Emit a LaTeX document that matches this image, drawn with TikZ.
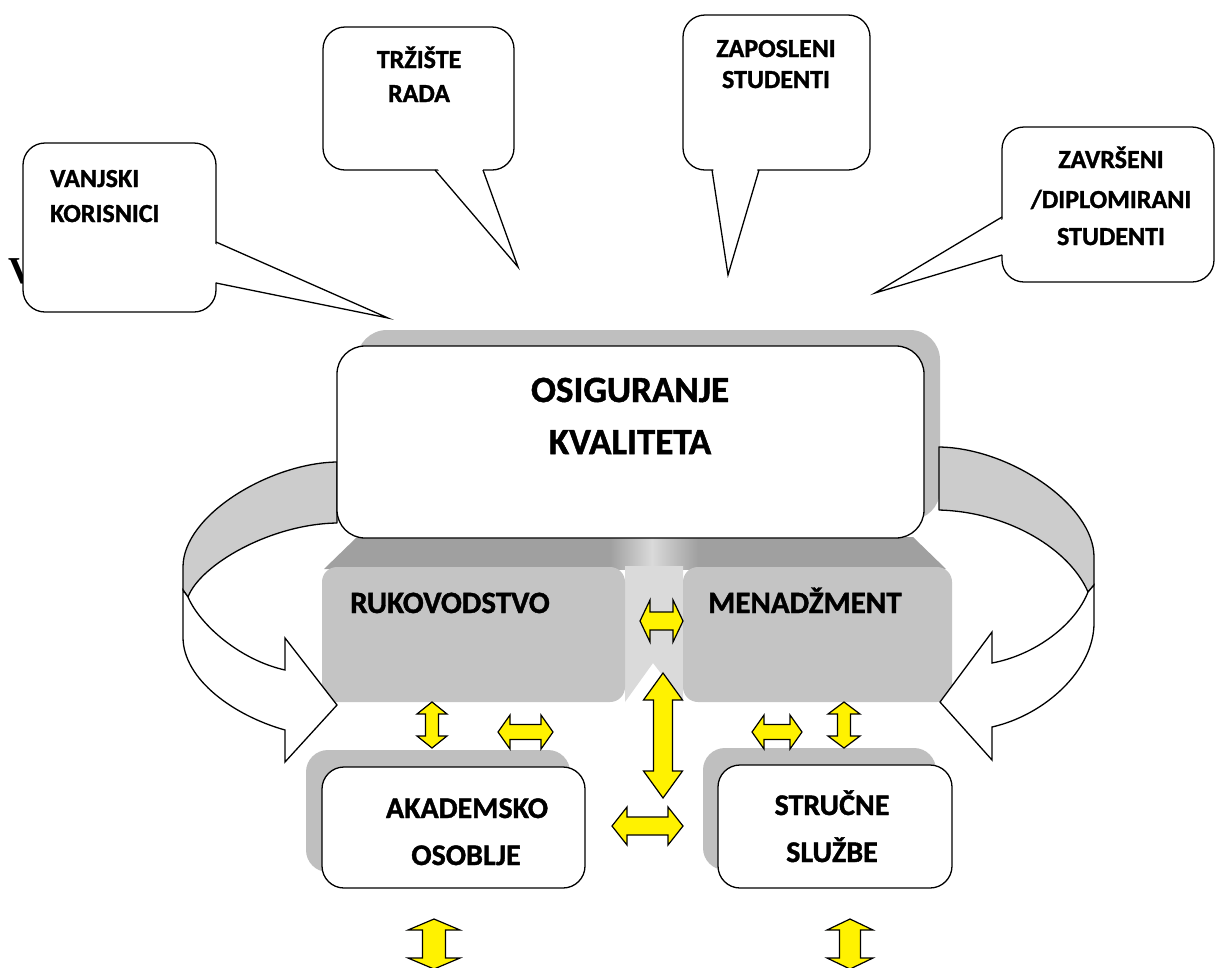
\documentclass[tikz,border=0pt]{standalone}
\usepackage{fontspec}
\setmainfont{Carlito}[BoldFont={Carlito Bold}, BoldFeatures={FakeBold=1.3}]
\newfontfamily\serifV{Liberation Serif}
\definecolor{shadowgray}{RGB}{191,191,191}
\definecolor{boxgray}{RGB}{196,196,196}
\definecolor{darkstrip}{RGB}{160,160,160}
\definecolor{centerlight}{RGB}{218,218,218}
\definecolor{bandgray}{RGB}{204,204,204}
\tikzset{
  outl/.style={draw=black, line width=1.3pt},
  calloutbox/.style={outl, fill=white, rounded corners=22pt},
  ctext/.style={font=\bfseries\fontsize{26}{30}\selectfont, inner sep=0pt, anchor=base},
  mtext/.style={font=\bfseries\fontsize{37}{40}\selectfont, inner sep=0pt, anchor=base},
  btext/.style={font=\bfseries\fontsize{30}{34}\selectfont, inner sep=0pt, anchor=base},
  bbtext/.style={font=\bfseries\fontsize{31}{34}\selectfont, inner sep=0pt, anchor=base},
  mainbox/.style={outl, fill=white, rounded corners=28pt, inner sep=0pt},
  lbox/.style={fill=boxgray, rounded corners=15pt, inner sep=0pt},
  wbox/.style={outl, fill=white, rounded corners=22pt, inner sep=0pt},
  band/.style={outl, fill=bandgray, line join=round},
  front/.style={outl, fill=white, line join=miter},
  yarrow/.style={fill=yellow, draw=black, line width=1.2pt, line join=miter},
}
% vertical double arrow: cx, ytop, ybot, shaft half, head half, head length
\newcommand{\yarrV}[6]{%
  \path[yarrow] (#1,#2) -- ({#1+#5},{#2+#6}) -- ({#1+#4},{#2+#6}) -- ({#1+#4},{#3-#6}) -- ({#1+#5},{#3-#6}) -- (#1,#3) -- ({#1-#5},{#3-#6}) -- ({#1-#4},{#3-#6}) -- ({#1-#4},{#2+#6}) -- ({#1-#5},{#2+#6}) -- cycle;}
% horizontal double arrow: cy, xleft, xright, shaft half, head half, head length
\newcommand{\yarrH}[6]{%
  \path[yarrow] (#2,#1) -- ({#2+#6},{#1-#5}) -- ({#2+#6},{#1-#4}) -- ({#3-#6},{#1-#4}) -- ({#3-#6},{#1-#5}) -- (#3,#1) -- ({#3-#6},{#1+#5}) -- ({#3-#6},{#1+#4}) -- ({#2+#6},{#1+#4}) -- ({#2+#6},{#1+#5}) -- cycle;}
\begin{document}
\begin{tikzpicture}[x=1pt,y=-1pt]
\useasboundingbox[fill=white] (0,0) rectangle (1215,967);

% partially hidden serif V
\node[inner sep=0pt, anchor=base west, font=\serifV\bfseries\fontsize{38}{40}\selectfont] (vletter) at (8,283) {V};

% ---------- callouts ----------
% 1 VANJSKI KORISNICI
\path[calloutbox] (23,143) rectangle (216,312);
\fill[white] (213,243) -- (388,318) -- (213,282) -- cycle;
\draw[outl, line join=miter] (216,242) -- (388,318) -- (216,283);
\node[ctext, anchor=base west] (vk1) at (50,187) {VANJSKI};
\node[ctext, anchor=base west] (vk2) at (50,222) {KORISNICI};

% 2 TRZISTE RADA
\path[calloutbox] (323,27) rectangle (514,170);
\fill[white] (436,167) -- (518,267) -- (482,167) -- cycle;
\draw[outl, line join=miter] (435,170) -- (518,267) -- (483,170);
\node[ctext] (tr1) at (419,68) {TRŽIŠTE};
\node[ctext] (tr2) at (419,102) {RADA};

% 3 ZAPOSLENI STUDENTI
\path[calloutbox] (683,15) rectangle (870,170);
\fill[white] (713,167) -- (728,275) -- (758,167) -- cycle;
\draw[outl, line join=miter] (712,170) -- (728,275) -- (759,170);
\node[ctext] (zs1) at (776,57) {ZAPOSLENI};
\node[ctext] (zs2) at (776,88) {STUDENTI};

% 4 ZAVRSENI / DIPLOMIRANI STUDENTI
\path[calloutbox] (1002,127) rectangle (1214,282);
\fill[white] (1005,218) -- (875,293) -- (1005,254) -- cycle;
\draw[outl, line join=miter] (1002,217) -- (875,293) -- (1002,255);
\node[ctext] (zd1) at (1111,168) {ZAVRŠENI};
\node[ctext] (zd2) at (1111,208) {/DIPLOMIRANI};
\node[ctext] (zd3) at (1111,245) {STUDENTI};

% ---------- central block ----------
\fill[shadowgray, rounded corners=30pt] (357,330) rectangle (940,520);
\fill[darkstrip] (357,537) -- (913,537) -- (946,569) -- (324,569) -- cycle;
\shade[left color=darkstrip, right color=centerlight] (610,537) rectangle (652,569);
\shade[left color=centerlight, right color=darkstrip] (652,537) rectangle (698,569);
\fill[centerlight] (625,566) -- (683,566) -- (683,702) -- (653,663) -- (625,702) -- cycle;

\node[lbox, minimum width=303pt, minimum height=135pt] (ruk) at (473.5,634.5) {};
\node[lbox, minimum width=269pt, minimum height=135pt] (men) at (817.5,634.5) {};

% lower boxes
\fill[shadowgray, rounded corners=22pt] (306,750) rectangle (570,872);
\fill[shadowgray, rounded corners=22pt] (703,748) rectangle (936,870);
\node[wbox, minimum width=263pt, minimum height=121pt] (ako) at (453.5,827.5) {};
\node[wbox, minimum width=234pt, minimum height=123pt] (ss) at (835,826.5) {};

% ---------- curved arrows ----------
% left
\path[band] (337,462) .. controls (270,463) and (183,515) .. (183,567) -- (183,590) -- (188,597)
   .. controls (200,565) and (270,524) .. (337,523) -- cycle;
\path[front] (188,597) .. controls (200,625) and (240,660) .. (285,670) -- (285,638) -- (337,705)
   -- (285,762) -- (285,730) .. controls (235,716) and (183,680) .. (183,637) -- (183,590) -- cycle;
% right
\path[band] (939,447) .. controls (1010,448) and (1094,505) .. (1094,557) -- (1094,585) -- (1088,592)
   .. controls (1070,550) and (1010,512) .. (939,510) -- cycle;
\path[front] (1088,592) .. controls (1075,625) and (1035,655) .. (992,663) -- (992,632) -- (940,702)
   -- (992,760) -- (992,727) .. controls (1045,715) and (1094,670) .. (1094,623) -- (1094,585) -- cycle;

% main box
\node[mainbox, minimum width=587pt, minimum height=192pt] (qa) at (630.5,442) {};

% ---------- texts ----------
\node[mtext] (qa1) at (630,402) {OSIGURANJE};
\node[mtext] (qa2) at (630,454) {KVALITETA};
\node[bbtext, anchor=base west] (rukt) at (350,613) {RUKOVODSTVO};
\node[bbtext, anchor=base west] (ment) at (708,613) {MENADŽMENT};
\node[btext] (ako1) at (467,818) {AKADEMSKO};
\node[btext] (ako2) at (466,865) {OSOBLJE};
\node[btext] (ss1) at (832,815) {STRUČNE};
\node[btext] (ss2) at (832,862) {SLUŽBE};

% ---------- yellow double arrows ----------
\yarrV{432}{702}{748}{6.5}{15}{12}
\yarrH{732}{498}{553}{7.5}{17}{12}
\yarrH{732}{752}{802}{7.5}{17}{12}
\yarrV{844}{702}{748}{6.5}{16}{12}
\yarrH{621}{640}{683}{9}{21}{10}
\yarrV{663}{673}{798}{9.5}{19.5}{27}
\yarrH{826}{612}{683}{9}{19}{15}
\yarrV{434}{919}{969}{11.5}{26}{11}
\yarrV{850}{919}{969}{10.5}{23}{11}
\end{tikzpicture}
\end{document}
